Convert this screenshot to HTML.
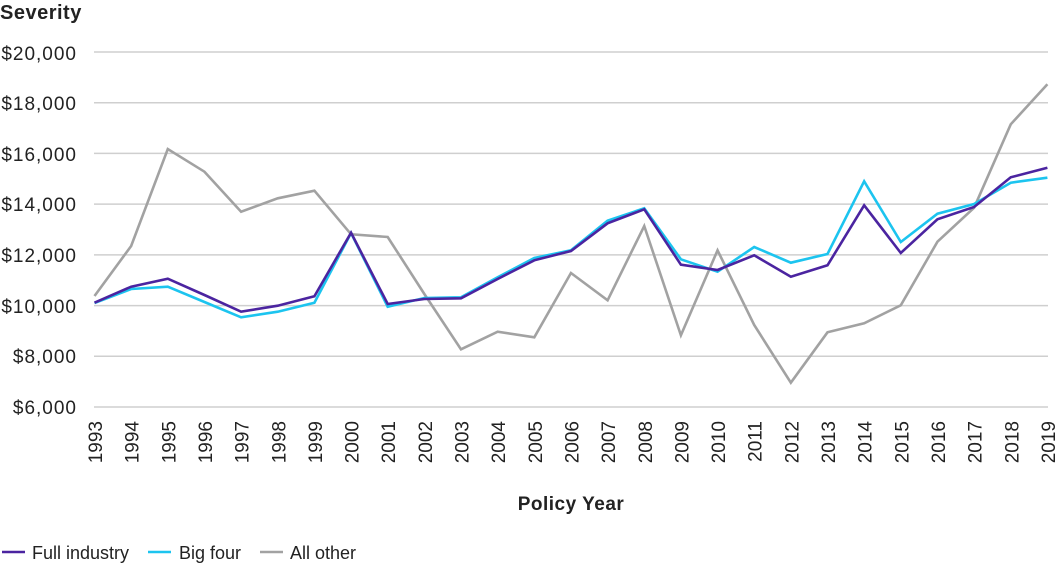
<!DOCTYPE html>
<html>
<head>
<meta charset="utf-8">
<style>
  html,body{margin:0;padding:0;background:#fff;}
  body{width:1064px;height:568px;overflow:hidden;}
  svg{display:block;font-family:"Liberation Sans",sans-serif;}
</style>
</head>
<body>
<svg width="1064" height="568" viewBox="0 0 1064 568" xmlns="http://www.w3.org/2000/svg">
  <text x="0" y="19" font-size="20" font-weight="bold" fill="#222" letter-spacing="0.5">Severity</text>

  <g stroke="#cfcfcf" stroke-width="1.5">
    <line x1="94" y1="52" x2="1048" y2="52"/>
    <line x1="94" y1="102.7" x2="1048" y2="102.7"/>
    <line x1="94" y1="153.4" x2="1048" y2="153.4"/>
    <line x1="94" y1="204.1" x2="1048" y2="204.1"/>
    <line x1="94" y1="254.9" x2="1048" y2="254.9"/>
    <line x1="94" y1="305.6" x2="1048" y2="305.6"/>
    <line x1="94" y1="356.3" x2="1048" y2="356.3"/>
    <line x1="94" y1="407" x2="1048" y2="407"/>
  </g>

  <g font-size="19" fill="#222" text-anchor="end" letter-spacing="1">
    <text x="77" y="60">$20,000</text>
    <text x="77" y="110">$18,000</text>
    <text x="77" y="161">$16,000</text>
    <text x="77" y="211">$14,000</text>
    <text x="77" y="262">$12,000</text>
    <text x="77" y="313">$10,000</text>
    <text x="77" y="363">$8,000</text>
    <text x="77" y="414">$6,000</text>
  </g>

  <g font-size="19" fill="#222" text-anchor="end">
    <text transform="translate(102,421) rotate(-90)">1993</text>
    <text transform="translate(138.65,421) rotate(-90)">1994</text>
    <text transform="translate(175.3,421) rotate(-90)">1995</text>
    <text transform="translate(211.95,421) rotate(-90)">1996</text>
    <text transform="translate(248.6,421) rotate(-90)">1997</text>
    <text transform="translate(285.25,421) rotate(-90)">1998</text>
    <text transform="translate(321.9,421) rotate(-90)">1999</text>
    <text transform="translate(358.55,421) rotate(-90)">2000</text>
    <text transform="translate(395.2,421) rotate(-90)">2001</text>
    <text transform="translate(431.85,421) rotate(-90)">2002</text>
    <text transform="translate(468.5,421) rotate(-90)">2003</text>
    <text transform="translate(505.15,421) rotate(-90)">2004</text>
    <text transform="translate(541.8,421) rotate(-90)">2005</text>
    <text transform="translate(578.45,421) rotate(-90)">2006</text>
    <text transform="translate(615.1,421) rotate(-90)">2007</text>
    <text transform="translate(651.75,421) rotate(-90)">2008</text>
    <text transform="translate(688.4,421) rotate(-90)">2009</text>
    <text transform="translate(725.05,421) rotate(-90)">2010</text>
    <text transform="translate(761.7,421) rotate(-90)">2011</text>
    <text transform="translate(798.35,421) rotate(-90)">2012</text>
    <text transform="translate(835,421) rotate(-90)">2013</text>
    <text transform="translate(871.65,421) rotate(-90)">2014</text>
    <text transform="translate(908.3,421) rotate(-90)">2015</text>
    <text transform="translate(944.95,421) rotate(-90)">2016</text>
    <text transform="translate(981.6,421) rotate(-90)">2017</text>
    <text transform="translate(1018.25,421) rotate(-90)">2018</text>
    <text transform="translate(1054.9,421) rotate(-90)">2019</text>
  </g>

  <text x="571" y="510" font-size="19" font-weight="bold" fill="#222" text-anchor="middle" letter-spacing="0.5">Policy Year</text>

  <g fill="none" stroke-width="2.6" stroke-linejoin="miter" stroke-linecap="butt">
    <polyline stroke="#a2a2a2" points="94.5,296 131.15,246 167.8,149 204.45,171.7 241.1,211.7 277.75,198.3 314.4,190.7 351.05,234.3 387.7,237 424.35,294 461,349.3 497.65,331.7 534.3,337.3 570.95,273 607.6,300.3 644.25,226 680.9,335.3 717.55,250.3 754.2,325 790.85,382.7 827.5,332.3 864.15,323.3 900.8,305.3 937.45,241.7 974.1,207.7 1010.75,124.3 1047.4,84.3"/>
    <polyline stroke="#1cc4ef" points="94.5,303 131.15,289 167.8,286.7 204.45,302 241.1,317.3 277.75,311.7 314.4,302.7 351.05,233 387.7,306.7 424.35,298 461,297.3 497.65,277.3 534.3,258 570.95,250.3 607.6,220.7 644.25,208.3 680.9,259.3 717.55,271.7 754.2,247 790.85,262.7 827.5,254 864.15,181.3 900.8,242 937.45,213.7 974.1,204 1010.75,182.7 1047.4,177.7"/>
    <polyline stroke="#4b24a0" points="94.5,302.7 131.15,286.7 167.8,278.7 204.45,295 241.1,311.7 277.75,305.7 314.4,296.3 351.05,232.7 387.7,304 424.35,299 461,298.3 497.65,279 534.3,260.3 570.95,251 607.6,223.3 644.25,209.3 680.9,264.7 717.55,270 754.2,255.3 790.85,276.7 827.5,265.3 864.15,205.3 900.8,253 937.45,219.3 974.1,207 1010.75,177.3 1047.4,167.7"/>
  </g>

  <g stroke-width="2.6">
    <line x1="2" y1="552" x2="25" y2="552" stroke="#4b24a0"/>
    <line x1="148" y1="552" x2="171" y2="552" stroke="#1cc4ef"/>
    <line x1="260" y1="552" x2="283" y2="552" stroke="#a2a2a2"/>
  </g>
  <g font-size="18" fill="#222">
    <text x="32" y="559">Full industry</text>
    <text x="179" y="559">Big four</text>
    <text x="290" y="559">All other</text>
  </g>
</svg>
</body>
</html>
